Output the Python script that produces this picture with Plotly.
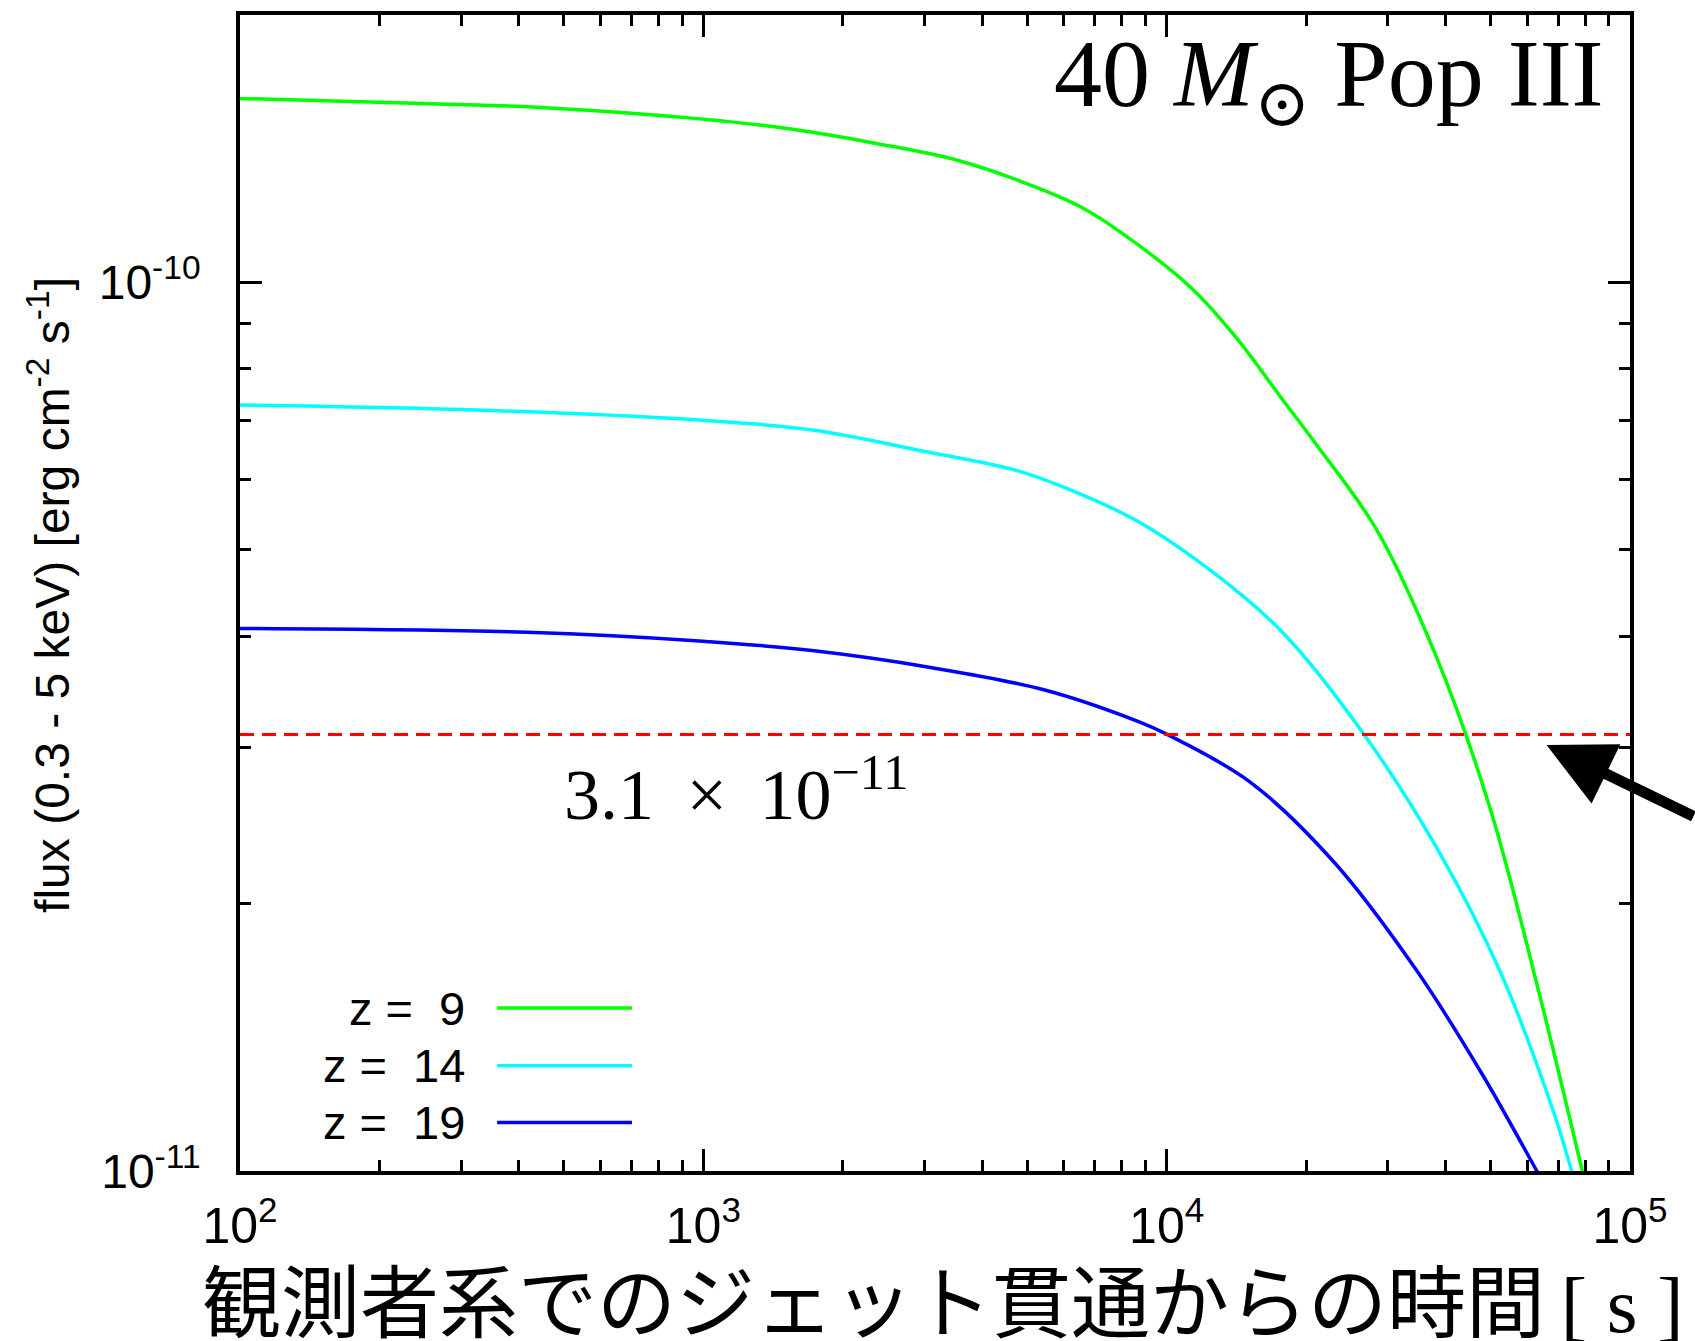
import math
import plotly.graph_objects as go

# ---- data ----
t_z9 = [100, 259, 444, 984, 1531, 2393, 3565, 5070, 6471, 8091, 11300, 14130,
        17860, 21090, 28380, 38280, 49890, 63970, 80540]
f_z9 = [1.611e-10, 1.589e-10, 1.574e-10, 1.528e-10, 1.489e-10, 1.432e-10, 1.371e-10,
        1.288e-10, 1.219e-10, 1.132e-10, 9.86e-11, 8.67e-11,
        7.36e-11, 6.56e-11, 5.27e-11, 3.78e-11, 2.56e-11, 1.57e-11, 0.955e-11]

t_z14 = [100, 313, 979, 1734, 3069, 4710, 6252, 8750, 12850, 17860, 26550,
         38280, 52360, 68230, 74820, 76740]
f_z14 = [7.28e-11, 7.19e-11, 7.00e-11, 6.82e-11, 6.44e-11, 6.15e-11, 5.83e-11,
         5.37e-11, 4.68e-11, 4.03e-11, 3.11e-11, 2.31e-11, 1.68e-11, 1.17e-11,
         1.00e-11, 0.955e-11]

t_z19 = [100, 416, 979, 1734, 3069, 5433, 8750, 10020, 15140, 22910,
         34670, 48190, 62950, 64570]
f_z19 = [4.08e-11, 4.04e-11, 3.95e-11, 3.85e-11, 3.69e-11, 3.48e-11, 3.20e-11,
         3.10e-11, 2.74e-11, 2.23e-11, 1.68e-11, 1.28e-11, 1.00e-11, 0.977e-11]

series_names = ["z =\u00a0\u00a09", "z =\u00a0\u00a014", "z =\u00a0\u00a019"]
series_colors = ["#00ff00", "#00ffff", "#0000ff"]

threshold = 3.1e-11
threshold_label = "3.1 \u2009×\u2009 10<sup>−11</sup>"

x_range = [100, 1e5]
y_range = [1e-11, 2e-10]
x_tickvals = [1e2, 1e3, 1e4, 1e5]
x_ticktext = ["10<sup>2</sup>", "10<sup>3</sup>", "10<sup>4</sup>", "10<sup>5</sup>"]
y_tickvals = [1e-11, 1e-10]
y_ticktext = ["10<sup>-11</sup>", "10<sup>-10</sup>"]

x_title = ("観測者系でのジェット貫通からの時間"
           "<span style='font-family:Liberation Serif'>\u2009[ s ]</span>")
y_title = "flux (0.3 - 5 keV) [erg cm<sup>-2</sup> s<sup>-1</sup>]"
panel_label = "40 <i>M</i><sub>⊙</sub> Pop III"

# ---- figure ----
W, H = 1695, 1341
L, R, T, B = 240, 65, 15, 170
fig = go.Figure()

for t, f, name, col in zip([t_z9, t_z14, t_z19], [f_z9, f_z14, f_z19],
                           series_names, series_colors):
    fig.add_trace(go.Scatter(x=t, y=f, mode="lines", name=name,
                             line=dict(color=col, width=3.5, shape="spline", smoothing=1.0),
                             showlegend=False))

# threshold line
fig.add_trace(go.Scatter(x=x_range, y=[threshold, threshold], mode="lines",
                         line=dict(color="#ff0000", width=3, dash="14px,8px"),
                         showlegend=False))

minor_x = [m * 10 ** e for e in range(2, 5) for m in range(2, 10)]
minor_y = [m * 10 ** e for e in range(-11, -9) for m in range(2, 10)]

sans = "Liberation Sans, Arial"
axis_common = dict(type="log", showgrid=False, zeroline=False, showline=True,
                   linecolor="black", linewidth=3.5, mirror="allticks",
                   ticks="inside", ticklen=22, tickwidth=2.5, tickcolor="black")

fig.update_xaxes(**axis_common, range=[2, 5], tickmode="array",
                 tickvals=x_tickvals, ticktext=x_ticktext, ticklabelstandoff=8,
                 tickfont=dict(family=sans, size=50, color="black"),
                 minor=dict(tickmode="array", tickvals=minor_x, ticks="inside",
                            ticklen=11, tickwidth=2.5, tickcolor="black", showgrid=False))
fig.update_yaxes(**axis_common, range=[-11, math.log10(y_range[1])], tickmode="array",
                 tickvals=y_tickvals, ticktext=y_ticktext, ticklabelstandoff=26,
                 tickfont=dict(family=sans, size=48, color="black"),
                 minor=dict(tickmode="array", tickvals=minor_y, ticks="inside",
                            ticklen=11, tickwidth=2.5, tickcolor="black", showgrid=False))

annotations = []
# y-axis title
annotations.append(dict(text=y_title, xref="paper", yref="paper", x=-0.137, y=0.498,
                        xanchor="center", yanchor="middle", textangle=-90, showarrow=False,
                        font=dict(family=sans, size=48, color="black")))
# x-axis title (Japanese)
annotations.append(dict(text=x_title, xref="paper", yref="paper", x=0.506, y=-0.109,
                        xanchor="center", yanchor="middle", showarrow=False,
                        font=dict(family="Noto Sans CJK JP", size=79, color="black")))
# panel label
annotations.append(dict(text=panel_label, xref="paper", yref="paper", x=0.983, y=0.997,
                        xanchor="right", yanchor="top", showarrow=False,
                        font=dict(family="Liberation Serif, DejaVu Serif", size=96, color="black")))
# threshold value
annotations.append(dict(text=threshold_label, xref="paper", yref="paper", x=0.232, y=0.33,
                        xanchor="left", yanchor="middle", showarrow=False,
                        font=dict(family="Liberation Serif, DejaVu Serif", size=72, color="black")))
# arrow pointing to threshold
annotations.append(dict(text="", x=4.82, y=math.log10(threshold) - 0.012, xref="x", yref="y",
                        ax=175, ay=72, axref="pixel", ayref="pixel",
                        showarrow=True, arrowhead=2, arrowsize=1.2, arrowwidth=11,
                        arrowcolor="black"))

# manual legend (text then line sample)
leg_rows_y = [0.141, 0.091, 0.042]
shapes = []
for name, col, yy in zip(series_names, series_colors, leg_rows_y):
    annotations.append(dict(text=name, xref="paper", yref="paper", x=0.163, y=yy,
                            xanchor="right", yanchor="middle", showarrow=False,
                            font=dict(family=sans, size=47, color="black")))
    shapes.append(dict(type="line", xref="paper", yref="paper", x0=0.185, x1=0.282,
                       y0=yy, y1=yy, line=dict(color=col, width=3.5)))

fig.update_layout(width=W, height=H, margin=dict(l=L, r=R, t=T, b=B, autoexpand=False),
                  plot_bgcolor="white", paper_bgcolor="white",
                  annotations=annotations, shapes=shapes, showlegend=False)

fig.write_html("out.html")
